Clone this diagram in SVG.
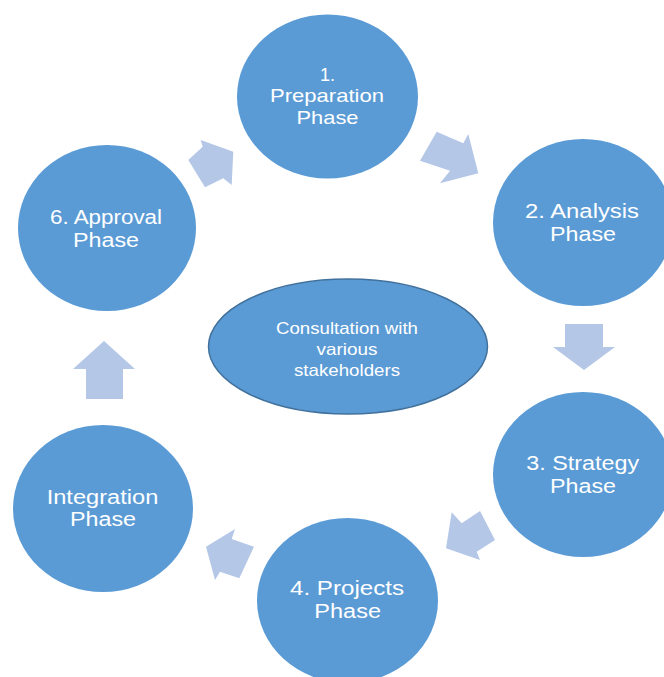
<svg xmlns="http://www.w3.org/2000/svg" width="664" height="677" viewBox="0 0 664 677">
<style>
.node{fill:#5B9BD5}
.center{fill:#5B9BD5;stroke:#41719C;stroke-width:1.5}
.arrow{fill:#B4C7E7}
text{font-family:"Liberation Sans",Arial,sans-serif;fill:#FFFFFF;text-anchor:middle}
.t{font-size:20px}
.t1{font-size:19px}
.tc{font-size:16.5px}
</style>
<rect width="664" height="677" fill="#FFFFFF"/>
<g id="connectors">
<polygon class="arrow" points="200.7,140 233.3,151.7 231.7,185 223.3,178.3 205,187.3 188.3,160 202.7,146.7"/>
<polygon class="arrow" points="436.7,131.7 463.3,143.3 468.3,134 478.3,173.3 440,183.3 450,170.7 420,160.7"/>
<polygon class="arrow" points="565,324 603,324 603,347 615,347 584,370 553,347 565,347"/>
<polygon class="arrow" points="451.7,512.3 461.7,523.3 480,511 495,540 476.7,551.7 480,560 446,548.3"/>
<polygon class="arrow" points="235,529 231.7,539 254,546.7 239.3,578.3 220,571.7 215,580 206,546.7"/>
<polygon class="arrow" points="104,341 135,369 123,369 123,399 86,399 86,369 73,369"/>
</g>
<g id="center">
<ellipse class="center" cx="348" cy="346.5" rx="139.5" ry="67.5"/>
<text class="tc" x="347" y="334" textLength="142" lengthAdjust="spacingAndGlyphs">Consultation with</text>
<text class="tc" x="347" y="355" textLength="61" lengthAdjust="spacingAndGlyphs">various</text>
<text class="tc" x="347" y="376" textLength="106" lengthAdjust="spacingAndGlyphs">stakeholders</text>
</g>
<g id="node1">
<ellipse class="node" cx="327.5" cy="96.5" rx="90.5" ry="82"/>
<text class="t1" x="327.5" y="81" textLength="15" lengthAdjust="spacingAndGlyphs">1.</text>
<text class="t1" x="327" y="102" textLength="114" lengthAdjust="spacingAndGlyphs">Preparation</text>
<text class="t1" x="327.5" y="123.5" textLength="62" lengthAdjust="spacingAndGlyphs">Phase</text>
</g>
<g id="node2">
<ellipse class="node" cx="583" cy="222.5" rx="90" ry="83.5"/>
<text class="t" x="582" y="217.5" textLength="114" lengthAdjust="spacingAndGlyphs">2. Analysis</text>
<text class="t" x="583" y="241" textLength="66" lengthAdjust="spacingAndGlyphs">Phase</text>
</g>
<g id="node3">
<ellipse class="node" cx="583" cy="474.5" rx="90" ry="82.5"/>
<text class="t" x="582.7" y="470" textLength="113" lengthAdjust="spacingAndGlyphs">3. Strategy</text>
<text class="t" x="583" y="493" textLength="66" lengthAdjust="spacingAndGlyphs">Phase</text>
</g>
<g id="node4">
<ellipse class="node" cx="347.5" cy="600.5" rx="90.5" ry="82.5"/>
<text class="t" x="347" y="595" textLength="114" lengthAdjust="spacingAndGlyphs">4. Projects</text>
<text class="t" x="347.7" y="618" textLength="66.7" lengthAdjust="spacingAndGlyphs">Phase</text>
</g>
<g id="node5">
<ellipse class="node" cx="103" cy="508.5" rx="90" ry="83.5"/>
<text class="t" x="102.5" y="503.5" textLength="111.7" lengthAdjust="spacingAndGlyphs">Integration</text>
<text class="t" x="103" y="526" textLength="66" lengthAdjust="spacingAndGlyphs">Phase</text>
</g>
<g id="node6">
<ellipse class="node" cx="107" cy="228" rx="89" ry="83"/>
<text class="t" x="106" y="224" textLength="112" lengthAdjust="spacingAndGlyphs">6. Approval</text>
<text class="t" x="106" y="246.5" textLength="66" lengthAdjust="spacingAndGlyphs">Phase</text>
</g>
</svg>
